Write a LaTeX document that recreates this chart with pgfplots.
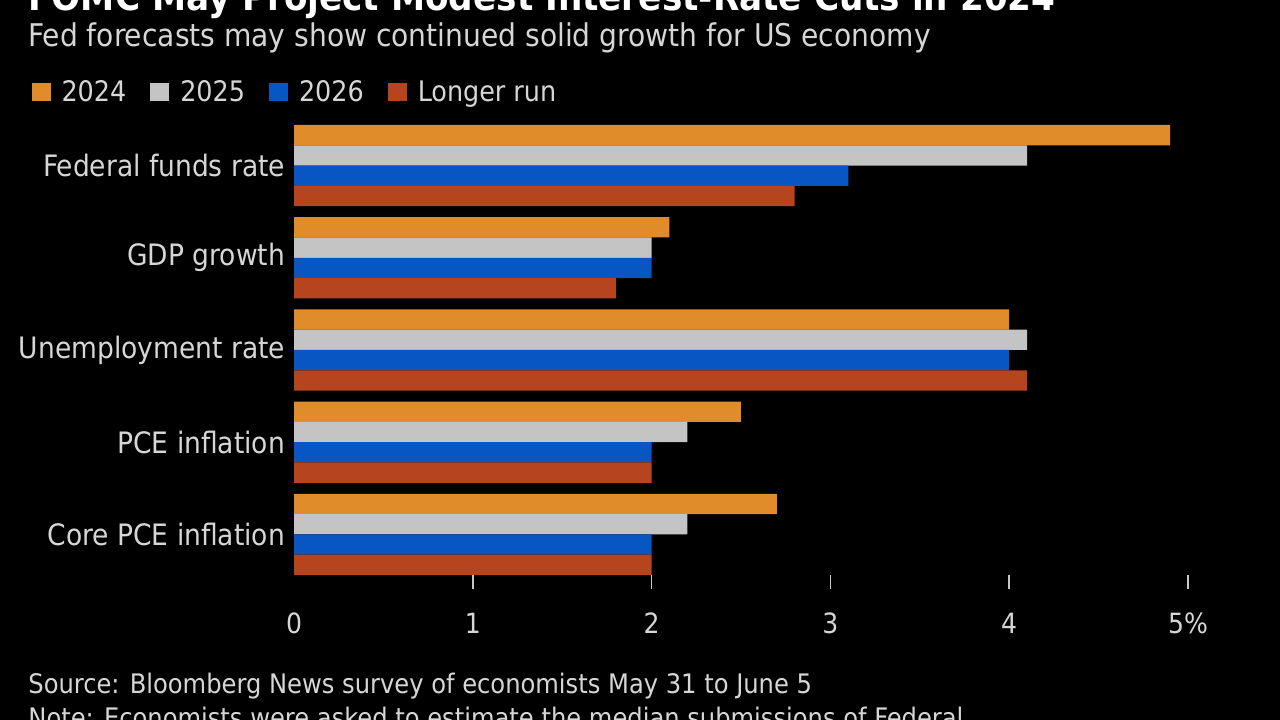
\documentclass[border=0pt]{standalone}
\usepackage{pgfplots}
\pgfplotsset{compat=1.18}
\usepackage{fontspec}
\setmainfont{DejaVu Sans Condensed}
\definecolor{c24}{HTML}{E08C2A}
\definecolor{c25}{HTML}{C4C4C4}
\definecolor{c26}{HTML}{0756C2}
\definecolor{clr}{HTML}{B5441F}
\definecolor{lgray}{HTML}{D6D6D6}
\definecolor{tickc}{HTML}{C8C8C8}
\begin{document}
\begin{tikzpicture}
\fill[black] (0bp,0bp) rectangle (640bp,360bp);
\path[use as bounding box] (0bp,0bp) rectangle (640bp,360bp);
\begin{scope}
\clip (0bp,0bp) rectangle (640bp,360bp);
\node[anchor=base west, inner sep=0pt, text=white, font=\bfseries\fontsize{19.1}{21}\selectfont] at (14bp,354.5bp) {FOMC May Project Modest Interest-Rate Cuts in 2024};
\node[anchor=base west, inner sep=0pt, text=lgray, font=\fontsize{15.7}{17}\selectfont] at (14bp,336.5bp) {Fed forecasts may show continued solid growth for US economy};
\node[anchor=base west, inner sep=0pt, text=lgray, font=\fontsize{13.5}{15}\selectfont] at (14bp,13.5bp) {Source: Bloomberg News survey of economists May 31 to June 5};
\node[anchor=base west, inner sep=0pt, text=lgray, font=\fontsize{13.5}{15}\selectfont] at (14bp,-3.5bp) {Note: Economists were asked to estimate the median submissions of Federal};
\begin{axis}[
  scale only axis, width=447bp, height=225bp,
  at={(147bp,72.5bp)}, anchor=south west,
  xbar, xmin=0, xmax=5, ymin=-0.44, ymax=4.44,
  axis line style={draw=none},
  xtick={0,1,2,3,4,5}, xticklabels={0,1,2,3,4,5\%},
  xtick pos=bottom,
  major x tick style={draw=none},
  extra x ticks={1,2,3,4,5}, extra x tick labels={},
  extra x tick style={tick align=outside, major tick length=7bp, major x tick style={draw=tickc, line width=0.8bp}},
  xticklabel style={text=lgray, font=\fontsize{14}{16}\selectfont, anchor=base, yshift=-29bp},
  ytick={0,1,2,3,4},
  yticklabels={Core PCE inflation, PCE inflation, Unemployment rate, GDP growth, Federal funds rate},
  major y tick style={draw=none},
  yticklabel style={text=lgray, font=\fontsize{14.8}{16}\selectfont, inner sep=0pt, xshift=0bp},
  /pgf/number format/assume math mode=true,
  legend columns=-1,
  legend style={at={(axis description cs:-0.294,1.109)}, anchor=north west, draw=none, fill=none, text=lgray,
    font=\fontsize{14.2}{16}\selectfont, inner sep=0pt,
    /tikz/every odd column/.append style={column sep=3.5bp},
    /tikz/every even column/.append style={column sep=10bp}},
  legend image code/.code={\path[#1, draw=none] (0bp,-4.5bp) rectangle (9.5bp,4.5bp);},
]
\addplot[fill=c24, draw=none, bar width=0.22, bar shift=0.33] coordinates {(2.7,0) (2.5,1) (4.0,2) (2.1,3) (4.9,4)};
\addplot[fill=c25, draw=none, bar width=0.22, bar shift=0.11] coordinates {(2.2,0) (2.2,1) (4.1,2) (2.0,3) (4.1,4)};
\addplot[fill=c26, draw=none, bar width=0.22, bar shift=-0.11] coordinates {(2.0,0) (2.0,1) (4.0,2) (2.0,3) (3.1,4)};
\addplot[fill=clr, draw=none, bar width=0.22, bar shift=-0.33] coordinates {(2.0,0) (2.0,1) (4.1,2) (1.8,3) (2.8,4)};
\legend{2024, 2025, 2026, Longer run}
\end{axis}
\end{scope}
\end{tikzpicture}
\end{document}
